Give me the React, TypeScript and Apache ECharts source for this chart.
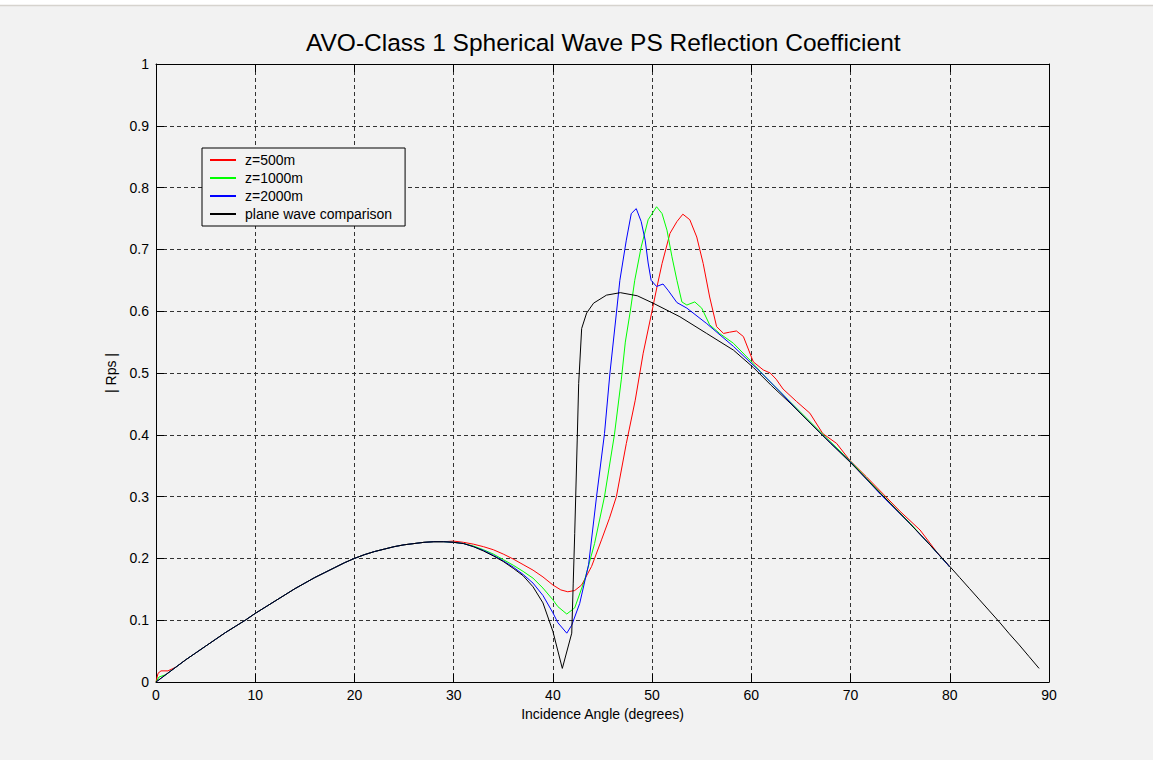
import React, { useEffect, useRef } from "react";
import * as echarts from "echarts";

const titleText = "AVO-Class 1 Spherical Wave PS Reflection Coefficient";
const xName = "Incidence Angle (degrees)";
const yName = "| Rps |";
const seriesNames = ["z=500m", "z=1000m", "z=2000m", "plane wave comparison"];
const seriesColors = ["#ff0000", "#00ff00", "#0000ff", "#000000"];

// shared low-angle branch (all curves coincide)
const commonBranch: number[][] = [
  [3, 0.036], [4, 0.047], [5, 0.058], [6, 0.069], [7, 0.08], [8, 0.09], [9, 0.1],
  [10, 0.111], [11, 0.121], [12, 0.131], [13, 0.141], [14, 0.151], [15, 0.16],
  [16, 0.169], [17, 0.177], [18, 0.185], [19, 0.193], [20, 0.2], [21, 0.206],
  [22, 0.211], [23, 0.215], [24, 0.219], [25, 0.222], [26, 0.224], [27, 0.226],
  [28, 0.227], [29, 0.227],
];

const redStart: number[][] = [[0, 0], [0.2, 0.014], [0.5, 0.018], [1.2, 0.018], [2, 0.024]];
const redTail: number[][] = [
  [30, 0.228], [31, 0.226], [32, 0.223], [33, 0.219], [34, 0.214], [35, 0.207],
  [36, 0.199], [37, 0.19], [38, 0.181], [39, 0.17], [40, 0.157], [40.8, 0.149],
  [41.5, 0.146], [42.2, 0.148], [42.9, 0.157], [43.9, 0.187], [44.9, 0.23],
  [45.7, 0.265], [46.4, 0.3], [47.4, 0.386], [48.3, 0.456], [49.1, 0.532],
  [49.95, 0.597], [50.5, 0.64], [51, 0.677], [51.8, 0.726], [52.5, 0.745],
  [53.1, 0.757], [53.8, 0.748], [54.5, 0.72], [55.15, 0.677], [55.8, 0.623],
  [56.5, 0.575], [57.2, 0.564], [57.8, 0.566], [58.5, 0.568], [59.2, 0.559],
  [60.2, 0.518], [61.2, 0.505], [61.9, 0.5], [62.5, 0.49], [63.2, 0.474],
  [64.55, 0.454], [65.9, 0.435], [67.2, 0.402], [68.6, 0.386], [69.9, 0.359],
  [71.6, 0.332], [73.3, 0.304], [75, 0.276], [77, 0.246], [78.7, 0.21], [80, 0.186],
];

const greenStart: number[][] = [[0, 0], [0.3, 0.008], [1, 0.012], [2, 0.024]];
const greenTail: number[][] = [
  [30, 0.226], [31, 0.224], [32, 0.22], [33, 0.214], [34, 0.207], [35, 0.198],
  [36, 0.189], [37, 0.179], [38, 0.168], [39, 0.152], [40, 0.133], [40.5, 0.122],
  [41.4, 0.11], [42.2, 0.12], [43.2, 0.165], [44.2, 0.224], [45.2, 0.3],
  [46.2, 0.4], [46.9, 0.49], [47.3, 0.55], [47.8, 0.6], [48.25, 0.65],
  [48.9, 0.704], [49.6, 0.748], [50.45, 0.769], [51, 0.758], [51.5, 0.731],
  [52, 0.688], [52.5, 0.65], [53, 0.615], [53.5, 0.61], [54.3, 0.615],
  [55, 0.605], [55.8, 0.578], [56.8, 0.564], [58.2, 0.548], [59.85, 0.521],
  [61.5, 0.492], [63, 0.468], [65, 0.436], [67, 0.404], [70, 0.357],
  [73, 0.306], [76, 0.257], [78, 0.222], [80, 0.186],
];

const blueStart: number[][] = [[0, 0], [1, 0.012], [2, 0.024]];
const blueTail: number[][] = [
  [30, 0.226], [31, 0.224], [32, 0.219], [33, 0.213], [34, 0.205], [35, 0.196],
  [36, 0.186], [37, 0.174], [38, 0.16], [39, 0.14], [40, 0.112], [40.5, 0.096],
  [41.4, 0.079], [41.9, 0.092], [42.7, 0.127], [43.6, 0.19], [44.4, 0.3],
  [45.2, 0.402], [45.75, 0.5], [46.4, 0.597], [46.75, 0.65], [47.4, 0.715],
  [47.9, 0.758], [48.4, 0.766], [48.9, 0.745], [49.3, 0.715], [49.6, 0.678],
  [49.9, 0.65], [50.45, 0.64], [51.1, 0.644], [51.6, 0.634], [52.5, 0.614],
  [53.5, 0.605], [55.5, 0.58], [58.2, 0.543], [60.9, 0.502], [63, 0.468],
  [65, 0.434], [67, 0.402], [70, 0.356], [73, 0.304], [76, 0.256], [78, 0.222],
  [80, 0.186],
];

const blackStart: number[][] = [[0, 0], [1, 0.012], [2, 0.024]];
const blackTail: number[][] = [
  [30, 0.226], [31, 0.224], [32, 0.219], [33, 0.212], [34, 0.204], [35, 0.195],
  [36, 0.184], [37, 0.172], [38, 0.154], [39, 0.128], [40, 0.082], [40.95, 0.022],
  [41.9, 0.079], [42.05, 0.16], [42.2, 0.24], [42.45, 0.39], [42.6, 0.483],
  [42.9, 0.572], [43.4, 0.597], [44.1, 0.613], [45.4, 0.626], [46.8, 0.63],
  [48.5, 0.625], [50.1, 0.613], [52.8, 0.591], [55.5, 0.564], [58.2, 0.537],
  [60.2, 0.509], [62, 0.48], [64, 0.45], [66, 0.418], [68, 0.386], [70, 0.355],
  [72, 0.322], [74, 0.289], [76, 0.256], [78, 0.222], [80, 0.187], [81, 0.169],
  [82, 0.151], [83, 0.133], [84, 0.115], [85, 0.097], [86, 0.078], [87, 0.06],
  [88, 0.041], [89, 0.022],
];

const redData = [...redStart, ...commonBranch, ...redTail];
const greenData = [...greenStart, ...commonBranch, ...greenTail];
const blueData = [...blueStart, ...commonBranch, ...blueTail];
const blackData = [...blackStart, ...commonBranch, ...blackTail];

const xMin = 0, xMax = 90, xInterval = 10;
const yMin = 0, yMax = 1, yInterval = 0.1;

export default function App() {
  const ref = useRef<HTMLDivElement>(null);
  useEffect(() => {
    if (!ref.current) return;
    const chart = echarts.init(ref.current, undefined, { renderer: "svg" });
    const font = "'Liberation Sans', Arial, sans-serif";
    const gridLine = { show: true, lineStyle: { color: "#333", width: 1, type: [4, 3] as any } };
    const axLine = { show: true, onZero: false, lineStyle: { color: "#000", width: 1 } };
    const tick = { show: true, inside: true, length: 8, lineStyle: { color: "#000" } };
    const noLabel = { show: false };
    const datas = [redData, greenData, blueData, blackData];
    chart.setOption({
      animation: false,
      backgroundColor: "#f2f2f2",
      textStyle: { fontFamily: font },
      title: {
        text: titleText,
        left: 301,
        top: 25,
        textStyle: { fontFamily: font, fontSize: 24.5, fontWeight: "normal", color: "#000" },
      },
      graphic: [
        { type: "rect", shape: { x: 0, y: 0, width: 1153, height: 5 }, style: { fill: "#ffffff" }, silent: true },
        { type: "line", shape: { x1: 0, y1: 5.5, x2: 1153, y2: 5.5 }, style: { stroke: "#d6d3ce", lineWidth: 1.5 }, silent: true },
      ],
      legend: {
        orient: "vertical",
        left: 202,
        top: 148,
        padding: [5, 13, 5, 7],
        itemGap: 4,
        itemWidth: 26,
        itemHeight: 14,
        backgroundColor: "#f2f2f2",
        borderColor: "#000",
        borderWidth: 1,
        borderRadius: 0,
        itemStyle: { opacity: 0, borderWidth: 0 },
        textStyle: { fontFamily: font, fontSize: 14, color: "#000", padding: [0, 0, 0, 4] },
        data: seriesNames,
      },
      grid: { left: 156, right: 104, top: 64, bottom: 78, show: false },
      xAxis: [
        {
          type: "value", min: xMin, max: xMax, interval: xInterval, position: "bottom",
          name: xName, nameLocation: "middle", nameGap: 25,
          nameTextStyle: { fontFamily: font, fontSize: 14, color: "#000" },
          axisLine: axLine, axisTick: tick, splitLine: gridLine,
          axisLabel: { color: "#000", fontSize: 14, fontFamily: font, margin: 6 },
        },
        {
          type: "value", min: xMin, max: xMax, interval: xInterval, position: "top",
          axisLine: axLine, axisTick: tick, splitLine: { show: false }, axisLabel: noLabel,
        },
      ],
      yAxis: [
        {
          type: "value", min: yMin, max: yMax, interval: yInterval, position: "left",
          name: yName, nameLocation: "middle", nameGap: 38, nameRotate: 90,
          nameTextStyle: { fontFamily: font, fontSize: 14, color: "#000" },
          axisLine: axLine, axisTick: tick, splitLine: gridLine,
          axisLabel: { color: "#000", fontSize: 14, fontFamily: font, margin: 7 },
        },
        {
          type: "value", min: yMin, max: yMax, interval: yInterval, position: "right",
          axisLine: axLine, axisTick: tick, splitLine: { show: false }, axisLabel: noLabel,
        },
      ],
      series: seriesNames.map((name, i) => ({
        name,
        type: "line",
        data: datas[i],
        symbol: "none",
        smooth: false,
        color: seriesColors[i],
        lineStyle: { color: seriesColors[i], width: 1 },
        z: 2 + i,
      })),
    });
    return () => chart.dispose();
  }, []);
  return <div ref={ref} style={{ position: "fixed", left: 0, top: 0, width: 1153, height: 760 }} />;
}
